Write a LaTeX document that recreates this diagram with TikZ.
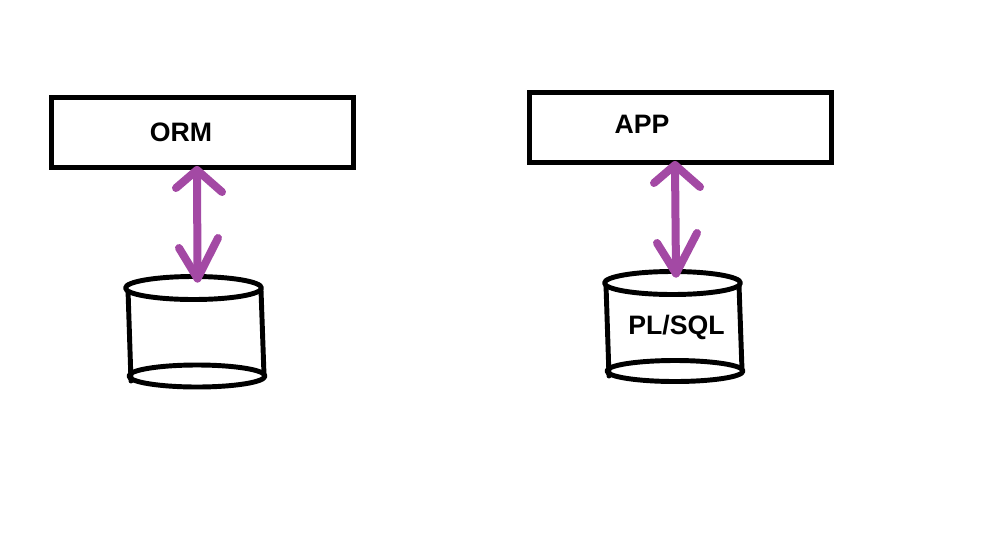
\documentclass[tikz,border=0pt]{standalone}
\usepackage{fontspec}
\setmainfont{Liberation Sans}
\definecolor{arrowpurple}{HTML}{A349A4}
\tikzset{
  boxshape/.style={draw=black,line width=3.8pt,fill=white,minimum width=226.5pt,minimum height=52.5pt,inner sep=0pt},
  boxtext/.style={font=\bfseries\fontsize{20}{22}\selectfont,inner sep=0pt,text=black},
  ink/.style={draw=black,line width=3.7pt,line cap=round,line join=round},
  dbell/.style={ink,fill=white},
  arrowline/.style={draw=arrowpurple,line width=6pt,line cap=round,line join=round}
}
\begin{document}
\begin{tikzpicture}[x=0.75pt,y=-0.75pt]
\useasboundingbox (0,0) rectangle (995,543);
% left
\node[boxshape] (orm) at (202.5,132.5) {};
\node[boxtext,anchor=center] (ormt) at (181,132.5) {ORM};
\coordinate (la) at (197,170);
\coordinate (lb) at (197.5,278.5);
\draw[ink] (128,290) -- (131,381);
\draw[ink] (261,290) -- (264,375);
\draw[dbell] (193.5,288) ellipse (68 and 11.5);
\draw[ink] (197,376) ellipse (68 and 11);
\draw[arrowline] (la) -- (lb);
\draw[arrowline] (176,188) -- (la) -- (222,192);
\draw[arrowline] (179,248) -- (lb) -- (218,238);
% right
\node[boxshape] (app) at (680.5,127.5) {};
\node[boxtext,anchor=center] (appt) at (642,124) {APP};
\coordinate (ra) at (675,165);
\coordinate (rb) at (676,273.5);
\draw[ink] (606,285) -- (609,376);
\draw[ink] (739,285) -- (742,370);
\draw[dbell] (672.5,283) ellipse (68 and 11.5);
\draw[ink] (675,371) ellipse (68 and 10.5);
\node[boxtext,anchor=center] (plsql) at (676.5,327) {PL/SQL};
\draw[arrowline] (ra) -- (rb);
\draw[arrowline] (654,183) -- (ra) -- (700,187);
\draw[arrowline] (657,243) -- (rb) -- (697,233);
\end{tikzpicture}
\end{document}
